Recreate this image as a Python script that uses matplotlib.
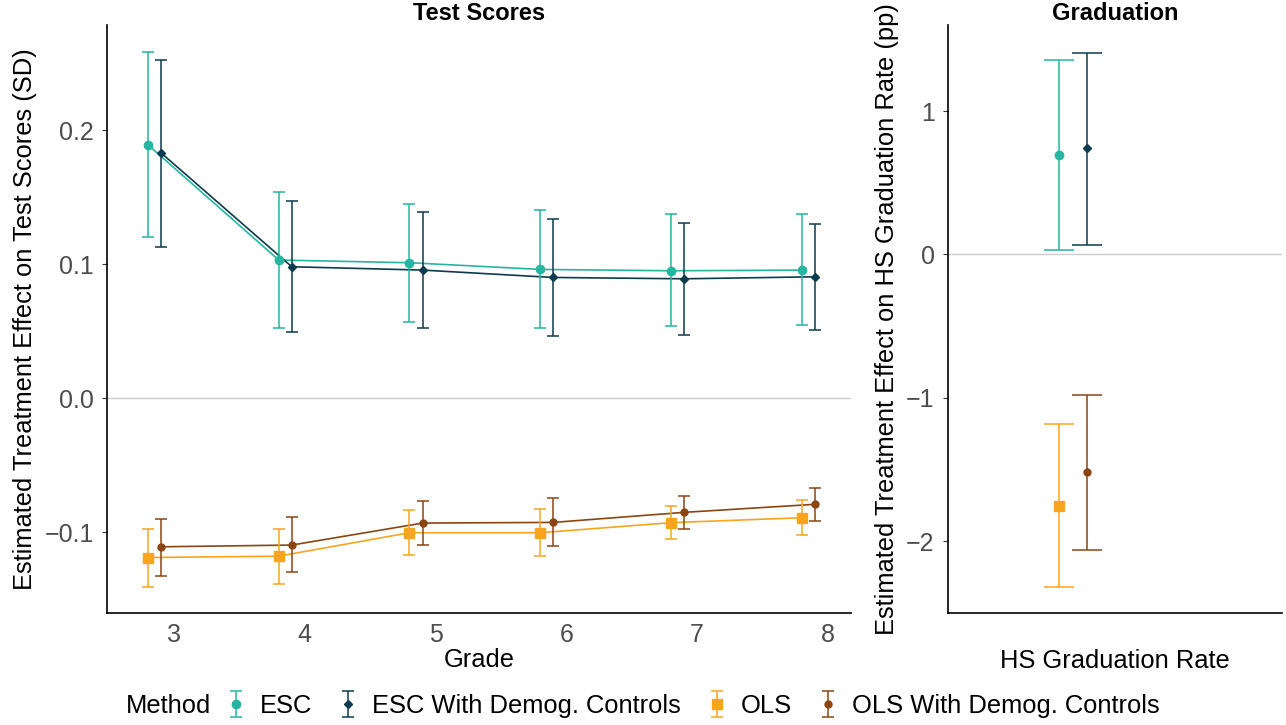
import matplotlib
matplotlib.use("Agg")
import matplotlib.pyplot as plt
from matplotlib.offsetbox import HPacker

plt.rcParams['font.family'] = ['Liberation Sans', 'DejaVu Sans']

grades = [3, 4, 5, 6, 7, 8]

# test score effects (SD)
esc = [0.189, 0.103, 0.101, 0.096, 0.095, 0.0955]
esc_lo = [0.120, 0.052, 0.057, 0.052, 0.054, 0.0545]
esc_hi = [0.258, 0.154, 0.145, 0.140, 0.137, 0.137]

escd = [0.183, 0.098, 0.0955, 0.090, 0.089, 0.0905]
escd_lo = [0.113, 0.049, 0.052, 0.046, 0.047, 0.051]
escd_hi = [0.252, 0.147, 0.139, 0.134, 0.131, 0.130]

ols = [-0.119, -0.118, -0.1005, -0.1005, -0.093, -0.0893]
ols_lo = [-0.141, -0.1385, -0.117, -0.1177, -0.105, -0.102]
ols_hi = [-0.098, -0.0975, -0.0836, -0.083, -0.0804, -0.076]

olsd = [-0.111, -0.1097, -0.0933, -0.0928, -0.0853, -0.0793]
olsd_lo = [-0.133, -0.130, -0.1095, -0.1104, -0.0975, -0.0916]
olsd_hi = [-0.090, -0.0888, -0.0769, -0.0746, -0.0731, -0.0672]

# graduation effects (pp): ESC, ESC demog, OLS, OLS demog
grad = [0.693, 0.740, -1.752, -1.519]
grad_lo = [0.030, 0.068, -2.322, -2.059]
grad_hi = [1.354, 1.405, -1.181, -0.979]

methods = ["ESC", "ESC With Demog. Controls", "OLS", "OLS With Demog. Controls"]
colors = ["#26B5A0", "#0D3B4E", "#F7A51E", "#8B4513"]
markers = ["o", "D", "s", "o"]
msizes = [6, 4.5, 7, 5]
dodge = [-0.2, -0.1, -0.2, -0.1]

fig = plt.figure(figsize=(12.86, 7.25), dpi=100)
ax1 = fig.add_axes([0.0832, 0.1545, 0.5785, 0.811])
ax2 = fig.add_axes([0.7372, 0.1545, 0.2597, 0.811])

series = [(esc, esc_lo, esc_hi), (escd, escd_lo, escd_hi),
          (ols, ols_lo, ols_hi), (olsd, olsd_lo, olsd_hi)]

for ax in (ax1, ax2):
    ax.axhline(0, color="#CCCCCC", lw=1, zorder=0)

handles = []
for i, (y, lo, hi) in enumerate(series):
    xs = [g + dodge[i] for g in grades]
    err = [[v - l for v, l in zip(y, lo)], [h - v for v, h in zip(y, hi)]]
    ax1.plot(xs, y, color=colors[i], lw=1.2, zorder=2)
    h = ax1.errorbar(xs, y, yerr=err, fmt=markers[i], color=colors[i],
                     ms=msizes[i], elinewidth=1.1, capsize=4.5, capthick=1.1,
                     zorder=3)
    handles.append(h)
    gx = 1 + dodge[i]
    ax2.errorbar([gx], [grad[i]], yerr=[[grad[i] - grad_lo[i]], [grad_hi[i] - grad[i]]],
                 fmt=markers[i], color=colors[i], ms=msizes[i], elinewidth=1.1,
                 capsize=11, capthick=1.1, zorder=3)

ax1.set_xlim(2.487, 8.176)
ax1.set_ylim(-0.1604, 0.2784)
ax1.set_xticks(grades)
ax1.set_yticks([-0.1, 0.0, 0.1, 0.2])
ax1.set_yticklabels(["\u22120.1", "0.0", "0.1", "0.2"])
ax1.set_xlabel("Grade", fontsize=18.4, labelpad=1)
ax1.set_ylabel("Estimated Treatment Effect on Test Scores (SD)", fontsize=18.4, labelpad=5)
ax1.set_title("Test Scores", fontsize=17, fontweight="bold", pad=0)

ax2.set_xlim(0.4, 1.6)
ax2.set_ylim(-2.5, 1.6)
ax2.set_xticks([1])
ax2.set_xticklabels([""])
ax2.set_yticks([-2, -1, 0, 1])
ax2.set_yticklabels(["\u22122", "\u22121", "0", "1"])
ax2.set_xlabel("HS Graduation Rate", fontsize=18.4, labelpad=19)
ax2.set_ylabel("Estimated Treatment Effect on HS Graduation Rate (pp)", fontsize=18.4, labelpad=5)
ax2.set_title("Graduation", fontsize=17, fontweight="bold", pad=0)

for ax in (ax1, ax2):
    for s in ("top", "right"):
        ax.spines[s].set_visible(False)
    ax.spines["left"].set_linewidth(1.2)
    ax.spines["bottom"].set_linewidth(1.2)
    ax.tick_params(axis="y", length=3.6, color="#333333", labelsize=18, labelcolor="#4D4D4D", pad=6)
    ax.tick_params(axis="x", length=0, labelsize=18, labelcolor="#4D4D4D", pad=7)

leg = fig.legend(handles, methods, loc="center", bbox_to_anchor=(0.5, 0.026),
                 ncol=4, frameon=False, fontsize=18.4, title="Method",
                 handlelength=0.9, handletextpad=0.5, columnspacing=0.95)
leg.get_title().set_fontsize(18.4)
# put the title on the left of the entries, as in ggplot
title_box = leg._legend_box._children[0]
entries_box = leg._legend_box._children[1]
leg._legend_box._children = [HPacker(pad=0, sep=9, children=[title_box, entries_box], align="center")]
leg._legend_box.set_figure(fig)

fig.savefig("out.png", dpi=100)
